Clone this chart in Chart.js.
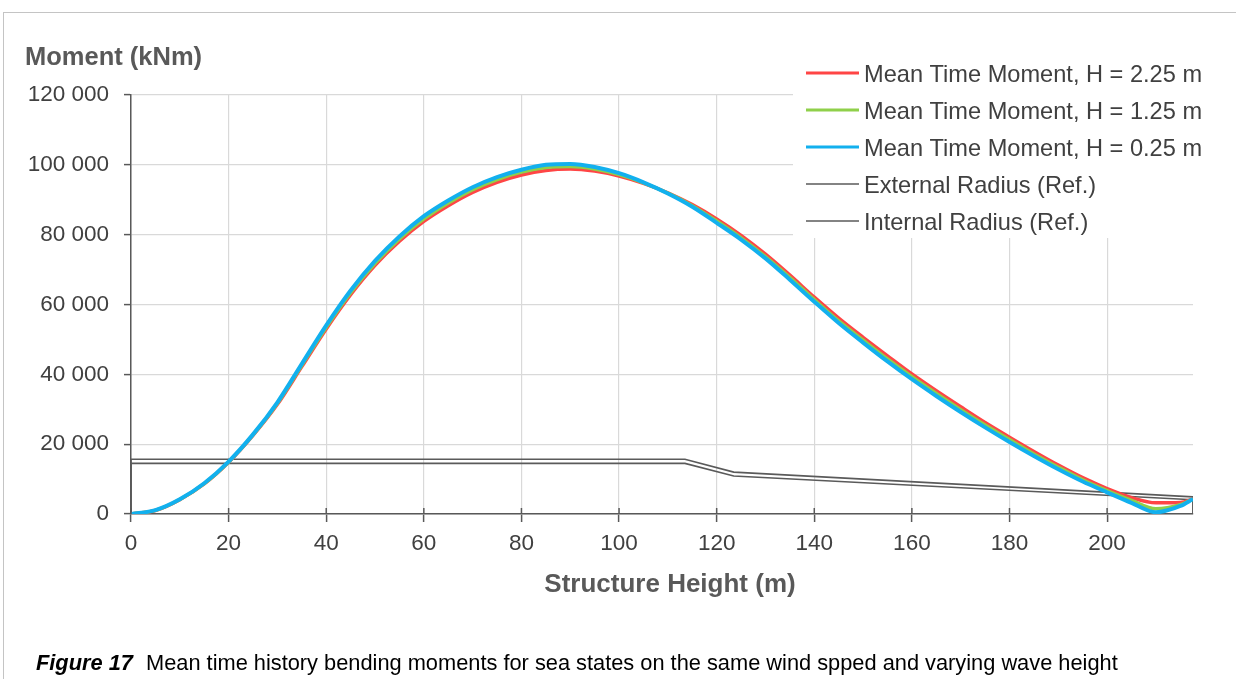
<!DOCTYPE html>
<html lang="en">
<head>
<meta charset="UTF-8">
<title>Mean time history bending moments</title>
<script src="https://cdn.jsdelivr.net/npm/chart.js"></script>
<style>
    body {
        margin: 0;
        background: #fff;
        font-family: 'Liberation Sans', Arial, sans-serif;
    }
    .frame {
        position: absolute;
        left: 3px;
        top: 12px;
        width: 1233px;
        height: 667px;
        border-left: 1px solid #c4c4c4;
        border-top: 1px solid #c4c4c4;
    }
    #chart {
        position: absolute;
        left: 0;
        top: 0;
    }
    .caption {
        position: absolute;
        left: 36px;
        top: 652px;
        font-size: 21.8px;
        line-height: 22px;
        color: #000;
        white-space: nowrap;
    }
    .caption b {
        display: inline-block;
        width: 110px;
        font-style: italic;
    }
</style>
</head>
<body>
<div class="frame"></div>
<canvas id="chart" width="1236" height="679"></canvas>
<div class="caption"><b>Figure 17</b>Mean time history bending moments for sea states on the same wind spped and varying wave height</div>

<script>
// structure height (m)
const heights = [0, 5, 10, 15, 20, 25, 30, 35, 40, 45, 50, 55, 60, 65, 70, 75, 80, 85, 90, 95,
    100, 105, 110, 115, 120, 125, 130, 135, 140, 145, 150, 155, 160, 165, 170, 175, 180, 185,
    190, 195, 200, 205, 210, 215, 217.6];

// mean time moments (kNm) per wave height
const momentH225 = [0, 1000, 4100, 8600, 14800, 22500, 31400, 42200, 53000, 62800, 71200, 78100,
    83800, 88300, 92100, 95000, 97100, 98400, 98800, 98200, 96800, 94700, 92000, 88600, 84500,
    79800, 74400, 68400, 62100, 56100, 50600, 45300, 40100, 35300, 30700, 26200, 22000, 17900,
    14000, 10400, 7300, 4700, 3200, 3300, 4300];
const momentH125 = [0, 1050, 4150, 8700, 14900, 22650, 31700, 42600, 53500, 63400, 71800, 78800,
    84500, 89100, 92900, 95800, 97900, 99200, 99500, 98800, 97200, 94850, 91900, 88300, 83900,
    79100, 73700, 67700, 61400, 55300, 49800, 44400, 39300, 34500, 29900, 25500, 21300, 17200,
    13400, 9800, 6700, 3900, 1500, 2700, 4300];
const momentH025 = [0, 1100, 4200, 8800, 15000, 22800, 32000, 43000, 54000, 64000, 72500, 79500,
    85300, 89800, 93600, 96500, 98600, 100000, 100250, 99400, 97600, 95000, 91800, 88000, 83400,
    78600, 73200, 67100, 60800, 54700, 49100, 43700, 38600, 33800, 29200, 24800, 20600, 16600,
    12800, 9300, 6200, 3200, 500, 2300, 4300];

// reference outlines (closed)
const extRadiusX = [0, 0, 113.5, 123.5, 217.6, 217.6, 0];
const extRadiusY = [0, 15700, 15700, 12000, 4900, 0, 0];
const intRadiusX = [0, 0, 113.5, 123.5, 217.6, 217.6, 0];
const intRadiusY = [0, 14500, 14500, 10900, 4100, 0, 0];

const xTicks = [0, 20, 40, 60, 80, 100, 120, 140, 160, 180, 200];
const yTicks = [0, 20000, 40000, 60000, 80000, 100000, 120000];

const seriesLabels = [
    'Mean Time Moment, H = 2.25 m',
    'Mean Time Moment, H = 1.25 m',
    'Mean Time Moment, H = 0.25 m',
    'External Radius (Ref.)',
    'Internal Radius (Ref.)'
];
const seriesColors = ['#ff4545', '#8fd04a', '#12b0ee', '#5a5a5a', '#5a5a5a'];

const FONT = "'Liberation Sans', Arial, sans-serif";
const AXIS = '#595959';

function pairs(xs, ys) {
    return xs.map((x, i) => ({ x: x, y: ys[i] }));
}

function spaced(v) {
    return String(v).replace(/\B(?=(\d{3})+(?!\d))/g, ' ');
}

// legend box, axis captions and the upper half of the x tick marks
const overlay = {
    id: 'overlay',
    afterDraw(chart) {
        const { ctx, chartArea: a, scales } = chart;
        ctx.save();

        ctx.strokeStyle = AXIS;
        ctx.lineWidth = 1.5;
        xTicks.forEach(v => {
            const px = scales.x.getPixelForValue(v);
            ctx.beginPath();
            ctx.moveTo(px, a.bottom);
            ctx.lineTo(px, a.bottom - 6);
            ctx.stroke();
        });

        ctx.fillStyle = AXIS;
        ctx.font = 'bold 25.5px ' + FONT;
        ctx.textBaseline = 'alphabetic';
        ctx.textAlign = 'left';
        ctx.fillText('Moment (kNm)', a.left - 106, a.top - 30);

        ctx.font = 'bold 26px ' + FONT;
        ctx.textAlign = 'center';
        ctx.fillText('Structure Height (m)', (a.left + a.right) / 2 + 8, a.bottom + 78);

        const boxL = a.right - 400;
        const boxT = a.top - 43;
        ctx.fillStyle = '#fff';
        ctx.fillRect(boxL, boxT, 428, 186);

        ctx.textAlign = 'left';
        ctx.font = '23.6px ' + FONT;
        seriesLabels.forEach((label, i) => {
            const cy = boxT + 21 + i * 37;
            ctx.strokeStyle = seriesColors[i];
            ctx.lineWidth = i < 3 ? 3 : 1.6;
            ctx.beginPath();
            ctx.moveTo(boxL + 13, cy);
            ctx.lineTo(boxL + 66, cy);
            ctx.stroke();
            ctx.fillStyle = '#404040';
            ctx.fillText(label, boxL + 71, cy + 8.5);
        });
        ctx.restore();
    }
};

const curve = (i, data, width, order) => ({
    label: seriesLabels[i],
    data: pairs(heights, data),
    borderColor: seriesColors[i],
    borderWidth: width,
    cubicInterpolationMode: 'monotone',
    order: order
});

const outline = (i, xs, ys, order) => ({
    label: seriesLabels[i],
    data: pairs(xs, ys),
    borderColor: seriesColors[i],
    borderWidth: 1.6,
    tension: 0,
    order: order
});

new Chart(document.getElementById('chart'), {
    type: 'scatter',
    data: {
        datasets: [
            curve(0, momentH225, 3.5, 2),
            curve(1, momentH125, 3.5, 1),
            curve(2, momentH025, 4, 0),
            outline(3, extRadiusX, extRadiusY, 3),
            outline(4, intRadiusX, intRadiusY, 4)
        ]
    },
    options: {
        responsive: false,
        animation: false,
        devicePixelRatio: 1,
        events: [],
        showLine: true,
        elements: { point: { radius: 0 } },
        layout: { padding: { left: 0, right: 43, top: 95, bottom: 0 } },
        plugins: {
            legend: { display: false },
            tooltip: { enabled: false }
        },
        scales: {
            x: {
                type: 'linear',
                min: 0,
                max: 217.6,
                afterBuildTicks: s => { s.ticks = xTicks.map(v => ({ value: v })); },
                afterFit: s => { s.height = 165; },
                ticks: {
                    autoSkip: false,
                    maxRotation: 0,
                    padding: 8,
                    color: '#404040',
                    font: { family: FONT, size: 22.5 }
                },
                grid: { color: '#d9d9d9', lineWidth: 1.2, tickColor: AXIS, tickLength: 8, tickWidth: 1.5 },
                border: { color: AXIS, width: 1.5 }
            },
            y: {
                min: 0,
                max: 120000,
                afterBuildTicks: s => { s.ticks = yTicks.map(v => ({ value: v })); },
                afterFit: s => { s.width = 131; },
                ticks: {
                    padding: 15,
                    color: '#404040',
                    font: { family: FONT, size: 22.5 },
                    callback: v => spaced(v)
                },
                grid: { color: '#d9d9d9', lineWidth: 1.2, tickColor: AXIS, tickLength: 7, tickWidth: 1.5 },
                border: { color: AXIS, width: 1.5 }
            }
        }
    },
    plugins: [overlay]
});
</script>
</body>
</html>
